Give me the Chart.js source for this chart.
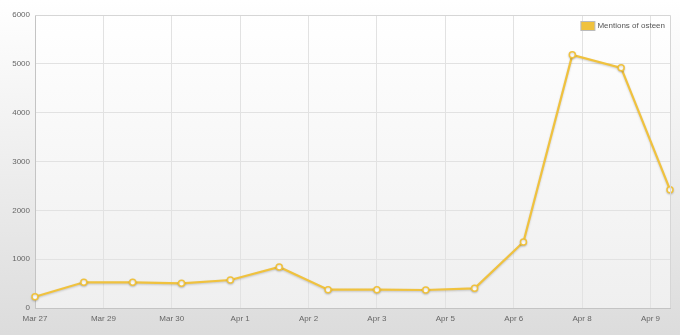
<!DOCTYPE html>
<html>
<head>
<meta charset="utf-8">
<script src="https://cdn.jsdelivr.net/npm/chart.js@4.4.1/dist/chart.umd.min.js"></script>
<style>
  html, body { margin: 0; padding: 0; background: #fff; }
  #wrap { width: 680px; height: 335px; }
</style>
</head>
<body>
<div id="wrap"><canvas id="myChart" width="680" height="335"></canvas></div>
<script>
// One value per day, Mar 27 .. Apr 9
var days = ['Mar 27', 'Mar 28', 'Mar 29', 'Mar 30', 'Mar 31', 'Apr 1', 'Apr 2',
            'Apr 3', 'Apr 4', 'Apr 5', 'Apr 6', 'Apr 7', 'Apr 8', 'Apr 9'];
var mentions = [231, 526, 526, 505, 573, 840, 375, 375, 369, 403, 1352, 5184, 4918, 2424];

// The x labels are spaced every 1.4 days in the original
var tickLabels = ['Mar 27', 'Mar 29', 'Mar 30', 'Apr 1', 'Apr 2', 'Apr 3', 'Apr 5', 'Apr 6', 'Apr 8', 'Apr 9'];
var tickStep = 1.4;
var yTicks = [0, 1000, 2000, 3000, 4000, 5000, 6000];

var lineColor = '#f0c23e';
var fontFamily = 'Liberation Sans, Arial, sans-serif';
var tickFont = { family: fontFamily, size: 8 };

// Page and plot backgrounds, plus the frame round the plot
var backgroundPlugin = {
  id: 'background',
  beforeDraw: function(chart) {
    var ctx = chart.ctx, a = chart.chartArea;
    var g = ctx.createLinearGradient(0, 0, 0, chart.height);
    g.addColorStop(0, '#ffffff');
    g.addColorStop(1, '#dcdcdc');
    ctx.save();
    ctx.fillStyle = g;
    ctx.fillRect(0, 0, chart.width, chart.height);
    var g2 = ctx.createLinearGradient(0, a.top, 0, a.bottom);
    g2.addColorStop(0, '#ffffff');
    g2.addColorStop(1, '#efefef');
    ctx.fillStyle = g2;
    ctx.fillRect(a.left, a.top, a.right - a.left, a.bottom - a.top);
    ctx.restore();
  },
  afterDraw: function(chart) {
    var ctx = chart.ctx, a = chart.chartArea;
    ctx.save();
    ctx.strokeStyle = '#d6d6d6';
    ctx.lineWidth = 1;
    ctx.beginPath();
    ctx.moveTo(a.left, a.top + 0.5);
    ctx.lineTo(a.right + 0.5, a.top + 0.5);
    ctx.lineTo(a.right + 0.5, a.bottom);
    ctx.stroke();

    // legend in the top right corner of the plot
    var label = chart.data.datasets[0].label;
    ctx.font = '8px ' + fontFamily;
    var w = ctx.measureText(label).width;
    var textX = a.right - 5 - w;
    var boxX = textX - 17;
    var y = a.top + 6;
    ctx.fillStyle = lineColor;
    ctx.fillRect(boxX + 0.5, y + 0.5, 14, 9);
    ctx.strokeStyle = '#bbbbbb';
    ctx.strokeRect(boxX + 0.5, y + 0.5, 14, 9);
    ctx.fillStyle = '#555';
    ctx.textBaseline = 'middle';
    ctx.fillText(label, textX, y + 5);
    ctx.restore();
  }
};

// soft shadow under the line
var shadowPlugin = {
  id: 'lineShadow',
  beforeDatasetDraw: function(chart) {
    var ctx = chart.ctx;
    ctx.save();
    ctx.shadowColor = 'rgba(0,0,0,0.18)';
    ctx.shadowBlur = 2;
    ctx.shadowOffsetY = 1;
  },
  afterDatasetDraw: function(chart) {
    chart.ctx.restore();
  }
};

var ctx = document.getElementById('myChart');
var myChart = new Chart(ctx, {
  type: 'line',
  data: {
    datasets: [{
      label: 'Mentions of osteen',
      data: mentions.map(function(v, i) { return { x: i, y: v }; }),
      borderColor: lineColor,
      backgroundColor: lineColor,
      borderWidth: 2.2,
      pointRadius: 3,
      pointBorderWidth: 1.5,
      pointBackgroundColor: '#ffffff',
      pointBorderColor: lineColor,
      tension: 0,
      fill: false,
      clip: false
    }]
  },
  options: {
    responsive: false,
    animation: false,
    layout: { padding: { top: 15, right: 10, left: 0, bottom: 0 } },
    plugins: {
      legend: { display: false },
      tooltip: { enabled: false }
    },
    scales: {
      x: {
        type: 'linear',
        min: 0,
        max: days.length - 1,
        afterBuildTicks: function(scale) {
          scale.ticks = tickLabels.map(function(t, i) { return { value: i * tickStep }; });
        },
        afterFit: function(scale) { scale.height = 27; },
        grid: { color: '#e2e2e2', drawTicks: false },
        border: { color: '#c4c4c4', width: 1 },
        ticks: {
          color: '#666',
          font: tickFont,
          padding: 6,
          maxRotation: 0,
          autoSkip: false,
          callback: function(v, i) { return tickLabels[i]; }
        }
      },
      y: {
        min: 0,
        max: 6000,
        afterBuildTicks: function(scale) {
          scale.ticks = yTicks.map(function(v) { return { value: v }; });
        },
        afterFit: function(scale) { scale.width = 35; },
        grid: { color: '#e2e2e2', drawTicks: false },
        border: { color: '#c4c4c4', width: 1 },
        ticks: {
          color: '#666',
          font: tickFont,
          padding: 5,
          callback: function(v) { return v; }
        }
      }
    }
  },
  plugins: [backgroundPlugin, shadowPlugin]
});
</script>
</body>
</html>
